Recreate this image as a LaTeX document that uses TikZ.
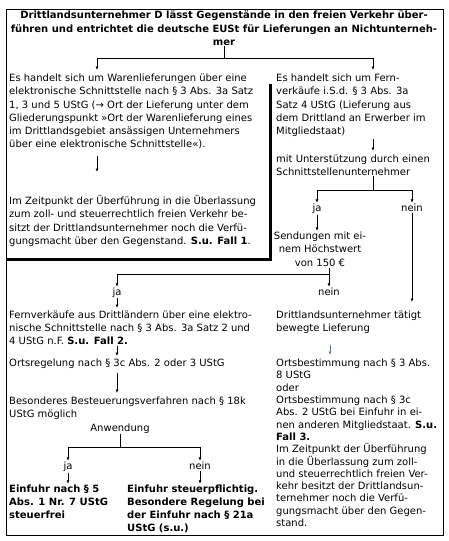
\documentclass[tikz,border=0pt]{standalone}
\usepackage{fontspec}
\setmainfont{DejaVu Sans}
\usetikzlibrary{arrows.meta}
\definecolor{pfeilblau}{RGB}{90,115,160}

\begin{document}
\begin{tikzpicture}[
    x=1pt, y=-1pt,
    % --- Stile (Anker base = Grundlinie der letzten Zeile) ---
    txt/.style = {anchor=base west, inner sep=0pt, align=left, font=\fontsize{10}{#1}\selectfont},
    txt/.default = 13.2,
    btxt/.style = {txt, font=\fontsize{10}{#1}\selectfont\bfseries},
    btxt/.default = 12.8,
    ctxt/.style = {anchor=base, inner sep=0pt, align=center, font=\fontsize{10}{13.2}\selectfont},
    link/.style = {color=#1, line width=0.8pt},         % Verbindungslinie
    arr/.style = {link=#1, -{Latex[length=3.5pt,width=3pt]}, shorten >=1pt}, % Pfeil
    frame/.style = {color=black, line width=0.8pt},    % Rahmen
    shadow/.style = {color=black, line width=3pt}      % dicker Rand
    ]

    \useasboundingbox (0,0) rectangle (448,541);

    % --- Rahmen ---
    \draw[frame] (6,9) rectangle (443,535);
    \draw[shadow] (270,84) -- (270,259) -- (6,259);

    % --- Texte ---
    \node[ctxt, font=\fontsize{10}{13.5}\selectfont\bfseries] (title) at (224,45.6)
        {Drittlandsunternehmer D lässt Gegenstände in den freien Verkehr über-\\
         führen und entrichtet die deutsche EUSt für Lieferungen an Nichtunterneh-\\
         mer};
    \node[txt] (ware) at (9,147.6)
        {Es handelt sich um Warenlieferungen über eine\\
         elektronische Schnittstelle nach § 3 Abs. 3a Satz\\
         1, 3 und 5 UStG (→ Ort der Lieferung unter dem\\
         Gliederungspunkt »Ort der Warenlieferung eines\\
         im Drittlandsgebiet ansässigen Unternehmers\\
         über eine elektronische Schnittstelle«).};
    \node[txt] (fallEins) at (9,244.2)
        {Im Zeitpunkt der Überführung in die Überlassung\\
         zum zoll- und steuerrechtlich freien Verkehr be-\\
         sitzt der Drittlandsunternehmer noch die Verfü-\\
         gungsmacht über den Gegenstand. \textbf{S.u. Fall 1}.};
    \node[txt] (fern) at (276,134.4)
        {Es handelt sich um Fern-\\
         verkäufe i.S.d. § 3 Abs. 3a\\
         Satz 4 UStG (Lieferung aus\\
         dem Drittland an Erwerber im\\
         Mitgliedstaat)};
    \node[txt] (mitUnt) at (276,175.8)
        {mit Unterstützung durch einen\\
         Schnittstellenunternehmer};
    \node[ctxt] (jaEins) at (317,211.6) {ja};
    \node[ctxt] (neinEins) at (412,211.6) {nein};
    \node[ctxt] (sendung) at (320,266)
        {Sendungen mit ei-\\
         nem Höchstwert\\
         von 150 €};
    \node[ctxt] (jaZwei) at (117,295.6) {ja};
    \node[ctxt] (neinZwei) at (329,295.6) {nein};
    \node[txt=13] (fernDritt) at (9,344.6)
        {Fernverkäufe aus Drittländern über eine elektro-\\
         nische Schnittstelle nach § 3 Abs. 3a Satz 2 und\\
         4 UStG n.F. \textbf{S.u. Fall 2.}};
    \node[txt] (ortsReg) at (9,366.6) {Ortsregelung nach § 3c Abs. 2 oder 3 UStG};
    \node[txt=13] (besVerf) at (9,417.6)
        {Besonderes Besteuerungsverfahren nach § 18k\\
         UStG möglich};
    \node[ctxt] (anw) at (120,431.6) {Anwendung};
    \node[ctxt] (jaDrei) at (68,469.6) {ja};
    \node[ctxt] (neinDrei) at (200,469.6) {nein};
    \node[btxt] (einfFrei) at (9,518.2)
        {Einfuhr nach § 5\\
         Abs. 1 Nr. 7 UStG\\
         steuerfrei};
    \node[btxt] (einfPfl) at (127,531)
        {Einfuhr steuerpflichtig.\\
         Besondere Regelung bei\\
         der Einfuhr nach § 21a\\
         UStG (s.u.)};
    \node[txt=13] (bewLief) at (276,331.6)
        {Drittlandsunternehmer tätigt\\
         bewegte Lieferung};
    \node[txt=12.3] (ortsBest) at (276,526.5)
        {Ortsbestimmung nach § 3 Abs.\\
         8 UStG\\
         oder\\
         Ortsbestimmung nach § 3c\\
         Abs. 2 UStG bei Einfuhr in ei-\\
         nen anderen Mitgliedstaat. \textbf{S.u.}\\
         \textbf{Fall 3.}\\
         Im Zeitpunkt der Überführung\\
         in die Überlassung zum zoll-\\
         und steuerrechtlich freien Ver-\\
         kehr besitzt der Drittlandsun-\\
         ternehmer noch die Verfü-\\
         gungsmacht über den Gegen-\\
         stand.};

    % --- Hilfspunkte ---
    \coordinate (jTitle) at (224,58);
    \coordinate (aWare) at (97,71);
    \coordinate (aFern) at (373,71);
    \coordinate (wareEnd) at (97,156);
    \coordinate (aFallEins) at (97,173);
    \coordinate (fernEnd) at (373,139);
    \coordinate (aMitUnt) at (373,152);
    \coordinate (jMitUnt) at (373,190);
    \coordinate (sendEnd) at (329,268);
    \coordinate (jSend) at (329,274);
    \coordinate (aNeinEins) at (412,303);
    \coordinate (aFernDritt) at (117,309);
    \coordinate (fernDrittEnd) at (117,346);
    \coordinate (aOrtsReg) at (117,357);
    \coordinate (ortsRegEnd) at (117,373);
    \coordinate (aBesVerf) at (117,394);
    \coordinate (jAnw) at (120,447);
    \coordinate (bewLiefEnd) at (330,345);
    \coordinate (aOrtsBest) at (330,356);

    % --- Verbindungen ---
    \draw[link=black] (title.south) -- (jTitle);
    \draw[arr=black] (jTitle) -| (aWare);
    \draw[arr=black] (jTitle) -| (aFern);
    \draw[arr=black] (wareEnd) -- (aFallEins);
    \draw[arr=black] (fernEnd) -- (aMitUnt);
    \draw[link=black] (mitUnt.south -| jMitUnt) -- (jMitUnt);
    \draw[arr=black] (jMitUnt) -| (jaEins.north);
    \draw[arr=black] (jMitUnt) -| (neinEins.north);
    \draw[arr=black, shorten <=1pt] (jaEins.south) -- (jaEins.south |- sendung.north);
    \draw[link=black] (sendEnd) -- (jSend);
    \draw[arr=black] (jSend) -| (jaZwei.north);
    \draw[arr=black] (jSend) -- (neinZwei.north);
    \draw[arr=black, shorten <=1pt] (neinEins.south) -- (aNeinEins);
    \draw[arr=black] (jaZwei.south) -- (aFernDritt);
    \draw[arr=black] (fernDrittEnd) -- (aOrtsReg);
    \draw[arr=black] (ortsRegEnd) -- (aBesVerf);
    \draw[link=black] (anw.south) -- (jAnw);
    \draw[arr=black] (jAnw) -| (jaDrei.north);
    \draw[arr=black] (jAnw) -| (neinDrei.north);
    \draw[arr=black, shorten <=1pt] (jaDrei.south) -- (jaDrei.south |- einfFrei.north);
    \draw[arr=black, shorten <=1pt] (neinDrei.south) -- (neinDrei.south |- einfPfl.north);
    \draw[arr=pfeilblau] (bewLiefEnd) -- (aOrtsBest);
\end{tikzpicture}
\end{document}
